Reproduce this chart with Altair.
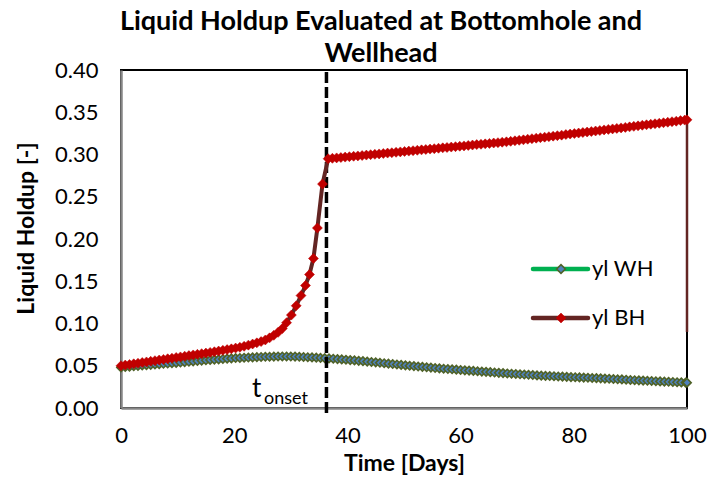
import altair as alt
import pandas as pd

# ---------------- data ----------------
T_WH = [0, 0.75, 1.5, 2.25, 3, 3.75, 4.5, 5.25, 6, 6.75, 7.5, 8.25, 9, 9.75, 10.5, 11.25,
        12, 12.75, 13.5, 14.25, 15, 15.75, 16.5, 17.25, 18, 18.75, 19.5, 20.25, 21, 21.75,
        22.5, 23.25, 24, 24.75, 25.5, 26.25, 27, 27.75, 28.5, 29.25, 30, 30.75, 31.5, 32.25,
        33, 33.75, 34.5, 35.25, 36, 36.75, 37.5, 38.25, 39, 39.75, 40.5, 41.25, 42, 42.75,
        43.5, 44.25, 45, 45.75, 46.5, 47.25, 48, 48.75, 49.5, 50.25, 51, 51.75, 52.5, 53.25,
        54, 54.75, 55.5, 56.25, 57, 57.75, 58.5, 59.25, 60, 60.75, 61.5, 62.25, 63, 63.75,
        64.5, 65.25, 66, 66.75, 67.5, 68.25, 69, 69.75, 70.5, 71.25, 72, 72.75, 73.5, 74.25,
        75, 75.75, 76.5, 77.25, 78, 78.75, 79.5, 80.25, 81, 81.75, 82.5, 83.25, 84, 84.75,
        85.5, 86.25, 87, 87.75, 88.5, 89.25, 90, 90.75, 91.5, 92.25, 93, 93.75, 94.5, 95.25,
        96, 96.75, 97.5, 98.25, 99, 99.75, 100]
YL_WH = [0.0480, 0.0485, 0.0489, 0.0494, 0.0498, 0.0503, 0.0507, 0.0511, 0.0515, 0.0519,
         0.0523, 0.0526, 0.0530, 0.0534, 0.0538, 0.0543, 0.0547, 0.0552, 0.0556, 0.0561,
         0.0565, 0.0569, 0.0573, 0.0576, 0.0580, 0.0584, 0.0587, 0.0591, 0.0592, 0.0595,
         0.0597, 0.0599, 0.0602, 0.0604, 0.0606, 0.0607, 0.0608, 0.0610, 0.0610, 0.0610,
         0.0609, 0.0608, 0.0606, 0.0604, 0.0601, 0.0599, 0.0596, 0.0593, 0.0590, 0.0587,
         0.0583, 0.0579, 0.0575, 0.0571, 0.0567, 0.0563, 0.0558, 0.0554, 0.0549, 0.0545,
         0.0540, 0.0535, 0.0530, 0.0525, 0.0520, 0.0515, 0.0510, 0.0505, 0.0500, 0.0496,
         0.0491, 0.0487, 0.0482, 0.0478, 0.0473, 0.0469, 0.0465, 0.0461, 0.0458, 0.0454,
         0.0450, 0.0446, 0.0443, 0.0439, 0.0435, 0.0431, 0.0428, 0.0424, 0.0420, 0.0416,
         0.0413, 0.0409, 0.0406, 0.0403, 0.0399, 0.0396, 0.0393, 0.0390, 0.0386, 0.0383,
         0.0380, 0.0378, 0.0376, 0.0373, 0.0371, 0.0369, 0.0366, 0.0364, 0.0362, 0.0360,
         0.0358, 0.0355, 0.0353, 0.0351, 0.0348, 0.0346, 0.0343, 0.0340, 0.0338, 0.0335,
         0.0332, 0.0329, 0.0327, 0.0324, 0.0322, 0.0320, 0.0317, 0.0315, 0.0312, 0.0310,
         0.0308, 0.0305, 0.0303, 0.0301, 0.0300]

T_BH = [0, 0.75, 1.5, 2.25, 3, 3.75, 4.5, 5.25, 6, 6.75, 7.5, 8.25, 9, 9.75, 10.5, 11.25,
        12, 12.75, 13.5, 14.25, 15, 15.75, 16.5, 17.25, 18, 18.75, 19.5, 20.25, 21, 21.75,
        22.5, 23.25, 24, 24.75, 25.5, 26.25, 27, 27.75, 28.5, 29.25,
        30.1, 30.95, 31.8, 32.6, 33.3, 34.0, 34.7, 35.6,
        36.6, 37.35, 38.1, 38.85, 39.6, 40.35, 41.1, 41.85, 42.6, 43.35, 44.1, 44.85, 45.6,
        46.35, 47.1, 47.85, 48.6, 49.35, 50.1, 50.85, 51.6, 52.35, 53.1, 53.85, 54.6, 55.35,
        56.1, 56.85, 57.6, 58.35, 59.1, 59.85, 60.6, 61.35, 62.1, 62.85, 63.6, 64.35, 65.1,
        65.85, 66.6, 67.35, 68.1, 68.85, 69.6, 70.35, 71.1, 71.85, 72.6, 73.35, 74.1, 74.85,
        75.6, 76.35, 77.1, 77.85, 78.6, 79.35, 80.1, 80.85, 81.6, 82.35, 83.1, 83.85, 84.6,
        85.35, 86.1, 86.85, 87.6, 88.35, 89.1, 89.85, 90.6, 91.35, 92.1, 92.85, 93.6, 94.35,
        95.1, 95.85, 96.6, 97.35, 98.1, 98.85, 99.6, 100]
YL_BH = [0.0500, 0.0508, 0.0515, 0.0523, 0.0530, 0.0538, 0.0545, 0.0553, 0.0560, 0.0568,
         0.0575, 0.0583, 0.0590, 0.0598, 0.0605, 0.0613, 0.0620, 0.0628, 0.0635, 0.0643,
         0.0650, 0.0658, 0.0666, 0.0674, 0.0682, 0.0691, 0.0700, 0.0709, 0.0718, 0.0730,
         0.0744, 0.0757, 0.0771, 0.0786, 0.0805, 0.0830, 0.0860, 0.0895, 0.0940, 0.1010,
         0.110, 0.121, 0.133, 0.145, 0.158, 0.177, 0.213, 0.265,
         0.2950, 0.2955, 0.2960, 0.2964, 0.2969, 0.2974, 0.2979, 0.2983, 0.2988, 0.2993,
         0.2998, 0.3002, 0.3007, 0.3012, 0.3017, 0.3021, 0.3026, 0.3031, 0.3036, 0.3040,
         0.3045, 0.3050, 0.3055, 0.3059, 0.3064, 0.3069, 0.3074, 0.3079, 0.3083, 0.3088,
         0.3093, 0.3098, 0.3102, 0.3107, 0.3112, 0.3117, 0.3121, 0.3126, 0.3131, 0.3136,
         0.3140, 0.3145, 0.3150, 0.3156, 0.3162, 0.3168, 0.3174, 0.3181, 0.3187, 0.3193,
         0.3199, 0.3205, 0.3211, 0.3217, 0.3223, 0.3229, 0.3236, 0.3242, 0.3248, 0.3254,
         0.3260, 0.3266, 0.3272, 0.3278, 0.3284, 0.3291, 0.3297, 0.3303, 0.3309, 0.3315,
         0.3321, 0.3327, 0.3333, 0.3339, 0.3346, 0.3352, 0.3358, 0.3364, 0.3370, 0.3376,
         0.3382, 0.3388, 0.3394, 0.3401, 0.3407, 0.3410]

# final drop of the bottomhole line at the last day
DROP_T = [100, 100]
DROP_V = [0.341, 0.09]

T_ONSET = 36.3
X_TICKS = [0, 20, 40, 60, 80, 100]
Y_TICKS = [0.0, 0.05, 0.10, 0.15, 0.20, 0.25, 0.30, 0.35, 0.40]
SERIES = ["yl WH", "yl BH"]

# ---------------- styling ----------------
FONT = "Lato"
W, H = 566, 338
WH_LINE, WH_FILL, WH_EDGE = "#00B050", "#4F81BD", "#4F6228"
BH_LINE, BH_FILL = "#632523", "#C00000"

wh = pd.DataFrame({"t": T_WH, "v": YL_WH})
bh = pd.DataFrame({"t": T_BH, "v": YL_BH})
drop = pd.DataFrame({"t": DROP_T, "v": DROP_V})

xs = alt.Scale(domain=[0, 100], nice=False, zero=False)
ys = alt.Scale(domain=[0, 0.4], nice=False)

x_axis = alt.Axis(values=X_TICKS, ticks=False, grid=False, domainColor="#868686",
                  domainWidth=2.5, labelFont=FONT, labelFontSize=22, labelColor="black",
                  labelPadding=17, labelFlush=False, title="Time [Days]", titleFont=FONT,
                  titleFontSize=23, titleFontWeight="bold", titleColor="black",
                  titleY=44, titleBaseline="top")
y_axis = alt.Axis(values=Y_TICKS, format=".2f", ticks=False, grid=False,
                  domainColor="#868686", domainWidth=2.5, labelFont=FONT, labelFontSize=22,
                  labelColor="black", labelPadding=23, labelFlush=False,
                  title="Liquid Holdup [-]", titleFont=FONT, titleFontSize=23,
                  titleFontWeight="bold", titleColor="black", titleAngle=270,
                  titleX=-88, titleY=158, titleBaseline="alphabetic", titleAlign="center")

X = alt.X("t:Q", scale=xs, axis=x_axis)
Y = alt.Y("v:Q", scale=ys, axis=y_axis)

wh_line = alt.Chart(wh).mark_line(color=WH_LINE, strokeWidth=4).encode(x=X, y=Y)
wh_pts = alt.Chart(wh).mark_point(shape="diamond", filled=True, size=70, fill=WH_FILL,
                                  stroke=WH_EDGE, strokeWidth=1.6, opacity=1).encode(x=X, y=Y)

onset = alt.Chart(pd.DataFrame({"t": [T_ONSET]})).mark_rule(
    color="black", strokeWidth=3.5, strokeDash=[11, 4]).encode(
    x=alt.X("t:Q", scale=xs), y=alt.value(2), y2=alt.value(H + 6))

bh_line = alt.Chart(bh).mark_line(color=BH_LINE, strokeWidth=4).encode(x=X, y=Y)
drop_line = alt.Chart(drop).mark_line(color=BH_LINE, strokeWidth=2.5).encode(x=X, y=Y)
bh_pts = alt.Chart(bh).mark_point(shape="diamond", filled=True, size=100, fill=BH_FILL,
                                  stroke=BH_FILL, strokeWidth=0.5, opacity=1).encode(x=X, y=Y)

# t_onset annotation
t_txt = alt.Chart(pd.DataFrame({"s": ["t"]})).mark_text(
    font=FONT, fontSize=26, align="left", baseline="alphabetic", color="black").encode(
    x=alt.value(131), y=alt.value(327), text="s:N")
onset_txt = alt.Chart(pd.DataFrame({"s": ["onset"]})).mark_text(
    font=FONT, fontSize=18, align="left", baseline="alphabetic", color="black").encode(
    x=alt.value(143), y=alt.value(334), text="s:N")

# manual legend (line + marker + label)
LX1, LX2, LXM, LXT = 412, 467, 440, 471
LY = [199, 248]
leg_wh_line = alt.Chart(pd.DataFrame({"a": [0]})).mark_rule(
    color=WH_LINE, strokeWidth=4.5, strokeCap="round").encode(
    x=alt.value(LX1), x2=alt.value(LX2), y=alt.value(LY[0]))
leg_wh_pt = alt.Chart(pd.DataFrame({"a": [0]})).mark_point(
    shape="diamond", filled=True, size=75, fill=WH_FILL, stroke=WH_EDGE, strokeWidth=1.6,
    opacity=1).encode(x=alt.value(LXM), y=alt.value(LY[0]))
leg_bh_line = alt.Chart(pd.DataFrame({"a": [0]})).mark_rule(
    color=BH_LINE, strokeWidth=4.5, strokeCap="round").encode(
    x=alt.value(LX1), x2=alt.value(LX2), y=alt.value(LY[1]))
leg_bh_pt = alt.Chart(pd.DataFrame({"a": [0]})).mark_point(
    shape="diamond", filled=True, size=100, fill=BH_FILL, stroke=BH_FILL, strokeWidth=0.5,
    opacity=1).encode(x=alt.value(LXM), y=alt.value(LY[1]))
leg_txt = alt.Chart(pd.DataFrame({"s": SERIES, "yy": LY})).mark_text(
    font=FONT, fontSize=22, align="left", baseline="middle", color="black").encode(
    x=alt.value(LXT), y=alt.Y("yy:Q", scale=None), text="s:N")

chart = alt.layer(
    wh_line, wh_pts, onset, bh_line, drop_line, bh_pts, t_txt, onset_txt,
    leg_wh_line, leg_wh_pt, leg_bh_line, leg_bh_pt, leg_txt
).properties(
    width=W, height=H,
    padding={"left": 121, "top": 70, "right": 23, "bottom": 77},
    autosize=alt.AutoSizeParams(type="none"),
    background="white",
    title=alt.TitleParams(
        text=["Liquid Holdup Evaluated at Bottomhole and", "Wellhead"],
        font=FONT, fontSize=27, fontWeight="bold", color="black", anchor="middle",
        dx=-23, offset=-9, lineHeight=32),
).configure_view(stroke="black", strokeWidth=2)

chart.save("out.html", embed_options={"renderer": "svg", "actions": False})
